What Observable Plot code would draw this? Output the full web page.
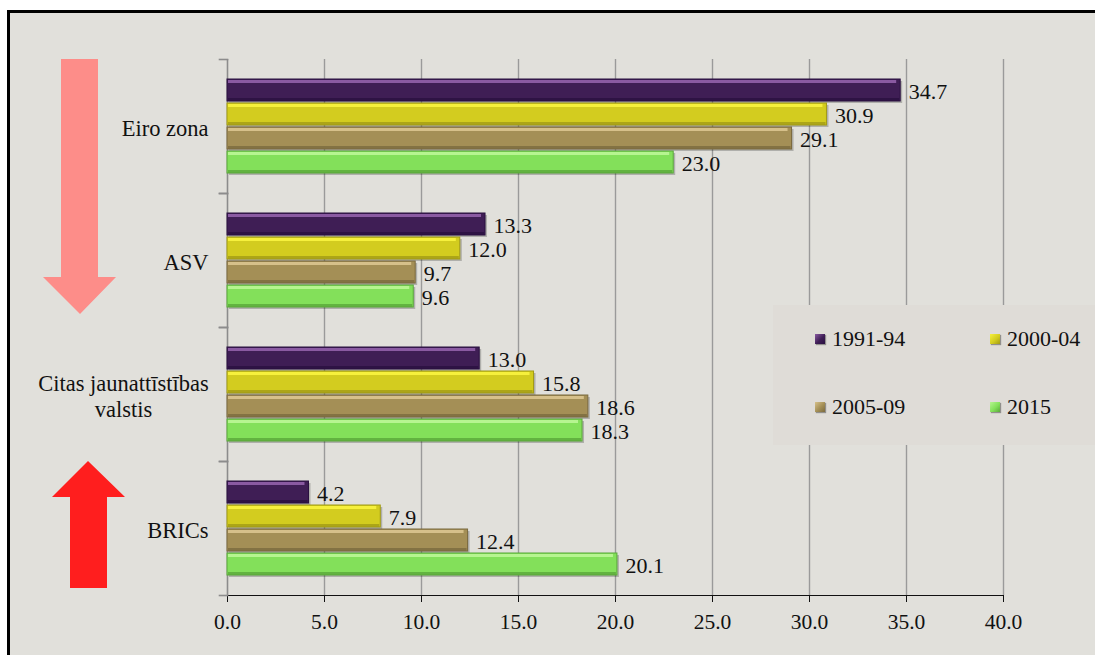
<!DOCTYPE html>
<html>
<head>
<meta charset="utf-8">
<script src="https://cdn.jsdelivr.net/npm/d3@7"></script>
<script src="https://cdn.jsdelivr.net/npm/@observablehq/plot@0.6"></script>
<style>
  body { margin: 0; background: #fff; }
  #wrap { position: relative; width: 1095px; height: 655px; overflow: hidden; background: #fff; }
  #frame { position: absolute; left: 7px; top: 10px; width: 1200px; height: 800px; border: 3px solid #000; background: #e1e0db; box-sizing: border-box; }
  #chart { position: absolute; left: 0; top: 0; }
  #arrows { position: absolute; left: 0; top: 0; }
  #legend { position: absolute; left: 773px; top: 305px; width: 322px; height: 140px; background: #dfdcd7; font-family: "Liberation Serif", serif; font-size: 22px; color: #111; }
  .item { position: absolute; display: flex; align-items: center; }
  .sw { width: 10px; height: 10px; margin-right: 7px; box-shadow: 1px 1px 1px rgba(0,0,0,0.35); }
</style>
</head>
<body>
<div id="wrap">
  <div id="frame"></div>
  <svg id="arrows" width="1095" height="655">
    <polygon points="61,59 98,59 98,277 116,277 80,314 43,277 61,277" fill="#fd8d89"/>
    <polygon points="88,461 125,497 107,497 107,588 70,588 70,497 52,497" fill="#ff1e1e"/>
  </svg>
  <div id="chart"></div>
  <div id="legend"></div>
</div>
<script>
const regions = ["Eiro zona", "ASV", "Citas jaunattīstības valstis", "BRICs"];
const periods = ["1991-94", "2000-04", "2005-09", "2015"];
const v1991_94 = [34.7, 13.3, 13.0, 4.2];
const v2000_04 = [30.9, 12.0, 15.8, 7.9];
const v2005_09 = [29.1, 9.7, 18.6, 12.4];
const v2015 = [23.0, 9.6, 18.3, 20.1];
const xTicks = [0, 5, 10, 15, 20, 25, 30, 35, 40];

const series = [v1991_94, v2000_04, v2005_09, v2015];
const mainColors = ["#3f1e55", "#d3cc1f", "#a48f56", "#83e05a"];
const topColors  = ["#8a5aa2", "#f6f03c", "#d6c08a", "#b6f590"];
const botColors  = ["#2a1040", "#a29b15", "#7b6a3e", "#5aa83a"];

const data = [];
regions.forEach((r, i) => periods.forEach((p, j) => data.push({region: r, period: p, value: series[j][i]})));

const font = "Liberation Serif, serif";
const chart = Plot.plot({
  width: 1095,
  height: 655,
  marginLeft: 227,
  marginRight: 92,
  marginTop: 58,
  marginBottom: 59,
  style: {background: "transparent", fontFamily: font, fontSize: "21.5px", color: "#111"},
  fy: {domain: regions, padding: 0, axis: null},
  y: {domain: periods, paddingInner: 0.07, paddingOuter: 0.76, align: 0.5, axis: null},
  x: {domain: [0, 40], ticks: xTicks, tickFormat: ".1f", tickSize: 7, tickPadding: 11, line: true, label: null},
  color: {domain: periods, range: mainColors},
  marks: [
    Plot.ruleX(xTicks.slice(1), {stroke: "#9a9a9a", strokeWidth: 1.4}),
    Plot.ruleX([0], {stroke: "#8c8c8c", strokeWidth: 1.6}),
    Plot.frame({anchor: "top", insetLeft: -8, insetRight: 776, stroke: "#8c8c8c", strokeWidth: 1.6}),
    Plot.frame({anchor: "bottom", insetLeft: -8, insetRight: 776, stroke: "#8c8c8c", strokeWidth: 1.6}),
    // shadow
    Plot.barX(data, {fy: "region", y: "period", x: "value", fill: "#000", fillOpacity: 0.22, dx: 2, dy: 2}),
    // main body
    Plot.barX(data, {fy: "region", y: "period", x: "value", fill: "period", stroke: d => botColors[periods.indexOf(d.period)], strokeWidth: 1}),
    // top highlight
    Plot.barX(data, {fy: "region", y: "period", x: "value", fill: d => topColors[periods.indexOf(d.period)], insetBottom: 18, insetTop: 1, insetLeft: 1, insetRight: 4}),
    // bottom shade
    Plot.barX(data, {fy: "region", y: "period", x: "value", fill: d => botColors[periods.indexOf(d.period)], insetTop: 19, insetLeft: 1, insetRight: 1, fillOpacity: 0.8}),
    // value labels
    Plot.text(data, {fy: "region", y: "period", x: "value", text: d => d.value.toFixed(1), textAnchor: "start", dx: 8, dy: 1, fill: "#111", fontSize: 22}),
    // category labels
    Plot.text(regions.filter(r => !r.startsWith("Citas")), {fy: d => d, text: d => d, frameAnchor: "left", textAnchor: "end", dx: -19, dy: 2, fill: "#111", fontSize: 22.5}),
    Plot.text(regions.filter(r => r.startsWith("Citas")), {fy: d => d, text: () => "Citas jaunattīstības\nvalstis", frameAnchor: "left", textAnchor: "middle", dx: -104, dy: 1, lineHeight: 1.17, fill: "#111", fontSize: 22.5})
  ]
});
document.getElementById("chart").appendChild(chart);

// legend
const legend = document.getElementById("legend");
const pos = [[42, 21], [217, 21], [42, 89], [217, 89]];
periods.forEach((p, i) => {
  const it = document.createElement("div");
  it.className = "item";
  it.style.left = pos[i][0] + "px";
  it.style.top = pos[i][1] + "px";
  const sw = document.createElement("span");
  sw.className = "sw";
  sw.style.background = `linear-gradient(135deg, ${topColors[i]} 0%, ${mainColors[i]} 55%, ${botColors[i]} 100%)`;
  const tx = document.createElement("span");
  tx.textContent = p;
  it.appendChild(sw); it.appendChild(tx);
  legend.appendChild(it);
});
</script>
</body>
</html>
